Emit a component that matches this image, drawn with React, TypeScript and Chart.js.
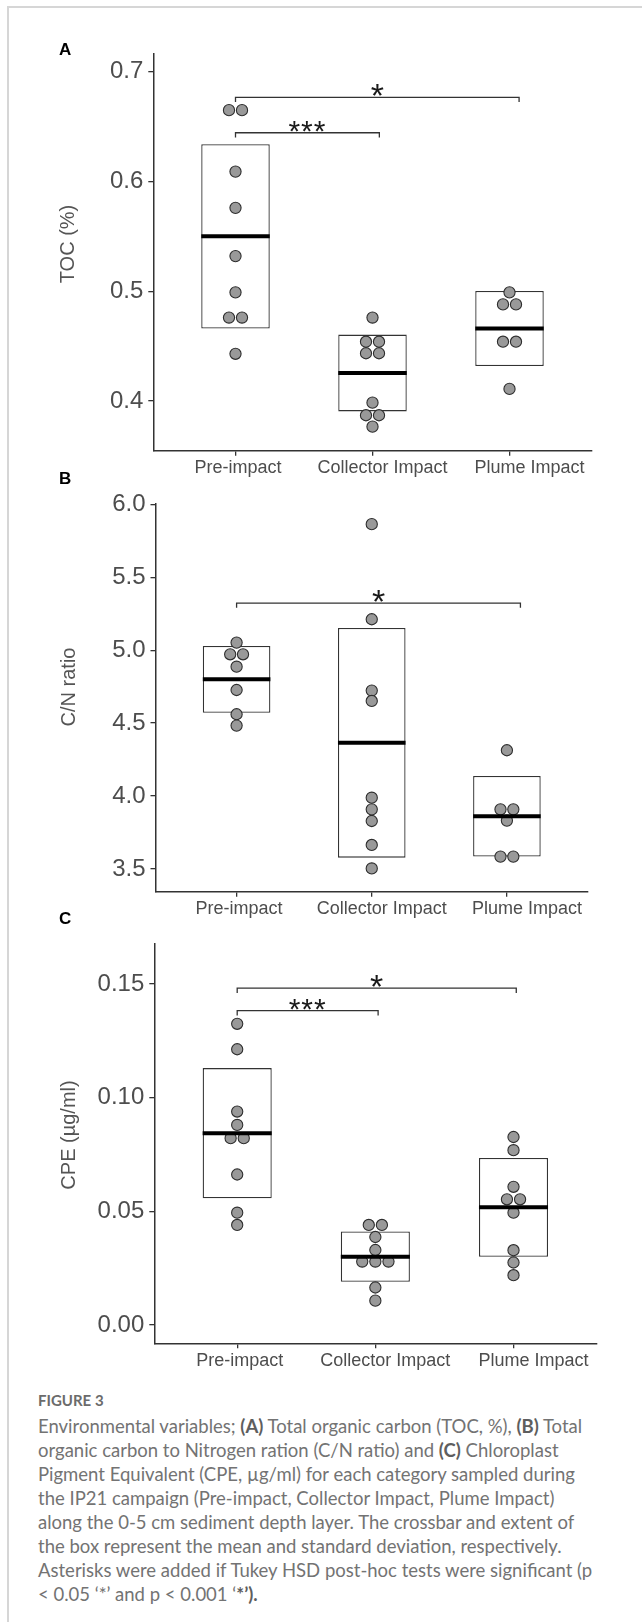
import React, { useEffect, useRef } from "react";
import { Chart, registerables } from "chart.js";

Chart.register(...registerables);

// ---------------- DATA ----------------
const categories = ["Pre-impact", "Collector Impact", "Plume Impact"];
// axis label text under each category (padding mimics the original's label placement)
const categoryAxisLabels = ["Pre-impact\u0020\u0020\u0020", "Collector Impact", "\u0020\u0020\u0020\u0020Plume Impact"];

// Panel A – TOC (%)
const tocPre = [0.665, 0.665, 0.609, 0.576, 0.532, 0.499, 0.476, 0.476, 0.443];
const tocCollector = [0.476, 0.454, 0.454, 0.4435, 0.4435, 0.3985, 0.387, 0.387, 0.3766];
const tocPlume = [0.499, 0.488, 0.488, 0.454, 0.454, 0.411];
const tocMean = [0.55, 0.4255, 0.466];
const tocSd = [0.084, 0.035, 0.0342];
const tocTicks = [0.4, 0.5, 0.6, 0.7];
const tocTickLabels = ["0.4", "0.5", "0.6", "0.7"];
const tocRange = [0.3547, 0.7168];
const tocBrackets = [
  { from: 0, to: 2.07, y: 0.6767, label: "*" },
  { from: 0, to: 1.05, y: 0.6444, label: "***" },
];

// Panel B – C/N ratio
const cnPre = [5.052, 4.972, 4.972, 4.887, 4.727, 4.561, 4.483];
const cnCollector = [5.864, 5.212, 4.723, 4.652, 3.989, 3.909, 3.829, 3.665, 3.504];
const cnPlume = [4.314, 3.909, 3.909, 3.832, 3.585, 3.585];
const cnMean = [4.8, 4.3655, 3.8615];
const cnSd = [0.2285, 0.7875, 0.2765];
const cnTicks = [3.5, 4.0, 4.5, 5.0, 5.5, 6.0];
const cnTickLabels = ["3.5", "4.0", "4.5", "5.0", "5.5", "6.0"];
const cnRange = [3.3445, 6.007];
const cnBrackets = [{ from: 0, to: 2.1, y: 5.323, label: "*" }];

// Panel C – CPE (µg/ml)
const cpePre = [0.1325, 0.1213, 0.0939, 0.088, 0.0822, 0.0822, 0.0662, 0.0494, 0.044];
const cpeCollector = [0.044, 0.044, 0.0387, 0.033, 0.0279, 0.0279, 0.0279, 0.0165, 0.0107];
const cpePlume = [0.0827, 0.0769, 0.0608, 0.0553, 0.0553, 0.0494, 0.0329, 0.0275, 0.0219];
const cpeMean = [0.08435, 0.03005, 0.05175];
const cpeSd = [0.02865, 0.01105, 0.02175];
const cpeTicks = [0.0, 0.05, 0.1, 0.15];
const cpeTickLabels = ["0.00", "0.05", "0.10", "0.15"];
const cpeRange = [-0.00805, 0.1679];
const cpeBrackets = [
  { from: 0, to: 2.02, y: 0.1482, label: "*" },
  { from: 0, to: 1.02, y: 0.1383, label: "***" },
];

const captionTitle = "FIGURE 3";
const captionLines = [
  "Environmental variables; **(A)** Total organic carbon (TOC, %), **(B)** Total",
  "organic carbon to Nitrogen ration (C/N ratio) and **(C)** Chloroplast",
  "Pigment Equivalent (CPE, µg/ml) for each category sampled during",
  "the IP21 campaign (Pre-impact, Collector Impact, Plume Impact)",
  "along the 0-5 cm sediment depth layer. The crossbar and extent of",
  "the box represent the mean and standard deviation, respectively.",
  "Asterisks were added if Tukey HSD post-hoc tests were significant (p",
  "< 0.05 \u2018*\u2019 and p < 0.001 \u2018***\u2019).",
];

// ---------------- STYLE / LAYOUT ----------------
const FONT = "'Liberation Sans', Arial, Helvetica, sans-serif";
const AXIS = "#333333";
const TEXT = "#4d4d4d";
const BOX_HALF = 0.25;
const DODGE = 0.095;
const TIP_FRAC = 0.012;

type PanelCfg = {
  letter: string; title: string; groups: number[][]; mean: number[]; sd: number[];
  ticks: number[]; tickLabels: string[]; range: number[];
  brackets: { from: number; to: number; y: number; label: string }[];
  top: number; height: number; padTop: number; padLeft: number; padRight: number;
  yWidth: number; xHeight: number; letterTop: number; titleX: number; titleY: number;
};

const panels: PanelCfg[] = [
  {
    letter: "A", title: "TOC (%)",
    groups: [tocPre, tocCollector, tocPlume], mean: tocMean, sd: tocSd,
    ticks: tocTicks, tickLabels: tocTickLabels, range: tocRange, brackets: tocBrackets,
    top: 0, height: 480, padTop: 53.3, padLeft: 54.7, padRight: 50.3, yWidth: 98.6, xHeight: 29.3, letterTop: 40.5,
    titleX: 66.7, titleY: 244,
  },
  {
    letter: "B", title: "C/N ratio",
    groups: [cnPre, cnCollector, cnPlume], mean: cnMean, sd: cnSd,
    ticks: cnTicks, tickLabels: cnTickLabels, range: cnRange, brackets: cnBrackets,
    top: 480, height: 440, padTop: 23.3, padLeft: 54.7, padRight: 54, yWidth: 100.8, xHeight: 28.3, letterTop: 469.5,
    titleX: 67.5, titleY: 687,
  },
  {
    letter: "C", title: "CPE (µg/ml)",
    groups: [cpePre, cpeCollector, cpePlume], mean: cpeMean, sd: cpeSd,
    ticks: cpeTicks, tickLabels: cpeTickLabels, range: cpeRange, brackets: cpeBrackets,
    top: 920, height: 460, padTop: 23.3, padLeft: 54.7, padRight: 45.6, yWidth: 99.6, xHeight: 36.7, letterTop: 909.5,
    titleX: 67.5, titleY: 1135,
  },
];

function dodge(values: number[], cat: number) {
  const counts: Record<string, number> = {};
  values.forEach((v) => (counts[v] = (counts[v] || 0) + 1));
  const seen: Record<string, number> = {};
  return values.map((v) => {
    const n = counts[v];
    const k = (seen[v] = (seen[v] ?? -1) + 1);
    return { x: cat + (k - (n - 1) / 2) * DODGE, y: v };
  });
}

const starPlugin = {
  id: "stars",
  afterDatasetsDraw(chart: any, _args: any, opts: any) {
    const { ctx } = chart;
    const xs = chart.scales.x;
    const ys = chart.scales.y;
    (opts.brackets || []).forEach((b: any) => {
      const px = xs.getPixelForValue((b.from + b.to) / 2);
      const py = ys.getPixelForValue(b.y);
      ctx.save();
      const single = b.label.length === 1;
      ctx.font = `${single ? 34 : 30}px ${FONT}`;
      try { (ctx as any).letterSpacing = single ? "0px" : "1px"; } catch (e) {}
      ctx.fillStyle = "#1a1a1a";
      ctx.textAlign = "center";
      ctx.textBaseline = "alphabetic";
      const m = ctx.measureText(b.label);
      ctx.fillText(b.label, px, py - 1 - m.actualBoundingBoxDescent);
      ctx.restore();
    });
  },
};

function Panel({ cfg }: { cfg: PanelCfg }) {
  const ref = useRef<HTMLCanvasElement | null>(null);
  useEffect(() => {
    if (!ref.current) return;
    const span = cfg.range[1] - cfg.range[0];
    const tip = span * TIP_FRAC;
    const points = cfg.groups.flatMap((g, i) => dodge(g, i));
    const catIdx = categories.map((_, i) => i);
    const datasets: any[] = [
      {
        type: "bar",
        data: categories.map((_, i) => ({ x: i, y: [cfg.mean[i] - cfg.sd[i], cfg.mean[i] + cfg.sd[i]] })),
        backgroundColor: "#ffffff", borderColor: AXIS, borderWidth: 1.3, borderSkipped: false,
        barPercentage: 0.5, categoryPercentage: 1, grouped: false, order: 5,
      },
      {
        type: "scatter", data: points, pointRadius: 5.6, pointHoverRadius: 5.6,
        backgroundColor: "#999999", borderColor: "#2e2e2e", borderWidth: 1.1, order: 4,
      },
      ...categories.map((_, i) => ({
        type: "line",
        data: [{ x: i - BOX_HALF, y: cfg.mean[i] }, { x: i + BOX_HALF, y: cfg.mean[i] }],
        borderColor: "#000000", borderWidth: 4, borderCapStyle: "butt", pointRadius: 0, order: 3,
      })),
      ...cfg.brackets.map((b) => ({
        type: "line",
        data: [{ x: b.from, y: b.y - tip }, { x: b.from, y: b.y }, { x: b.to, y: b.y }, { x: b.to, y: b.y - tip }],
        borderColor: "#333333", borderWidth: 1.3, pointRadius: 0, order: 1,
      })),
    ];
    const gridOpts = {
      display: true, offset: false, drawOnChartArea: false, drawTicks: true, tickLength: 5,
      color: AXIS, lineWidth: 1.3,
    };
    const chart = new Chart(ref.current, {
      type: "scatter",
      data: { datasets },
      plugins: [starPlugin as any],
      options: {
        animation: false, responsive: false, devicePixelRatio: 1, events: [],
        layout: { padding: { top: cfg.padTop, left: cfg.padLeft, right: cfg.padRight, bottom: 0 } },
        plugins: { legend: { display: false }, tooltip: { enabled: false }, stars: { brackets: cfg.brackets } } as any,
        scales: {
          x: {
            type: "linear", min: -0.6, max: 2.6, offset: false,
            grid: gridOpts as any,
            border: { display: true, color: AXIS, width: 1.5 },
            ticks: {
              color: TEXT, font: { family: FONT, size: 18 }, padding: 2, labelOffset: 10,
              autoSkip: false, maxRotation: 0,
              callback: (v: any) => categoryAxisLabels[Math.round(Number(v))] ?? "",
            },
            afterBuildTicks: (s: any) => { s.ticks = catIdx.map((i) => ({ value: i })); },
            afterFit: (s: any) => { s.height = cfg.xHeight; },
          },
          y: {
            type: "linear", min: cfg.range[0], max: cfg.range[1],
            grid: gridOpts as any,
            border: { display: true, color: AXIS, width: 1.5 },
            ticks: {
              color: TEXT, font: { family: FONT, size: 24 }, padding: 5,
              callback: (_v: any, idx: number) => cfg.tickLabels[idx],
            },
            afterBuildTicks: (s: any) => { s.ticks = cfg.ticks.map((v) => ({ value: v })); },
            afterFit: (s: any) => { s.width = cfg.yWidth; },
            title: { display: false },
          },
        },
      } as any,
    });
    return () => chart.destroy();
  }, [cfg]);
  return (
    <>
      <canvas ref={ref} width={642} height={cfg.height}
        style={{ position: "absolute", left: 0, top: cfg.top, width: 642, height: cfg.height }} />
      <div style={{ position: "absolute", left: 59, top: cfg.letterTop, fontFamily: FONT, fontWeight: 700, fontSize: 17, lineHeight: "17px", color: "#000" }}>
        {cfg.letter}
      </div>
      <div style={{ position: "absolute", left: cfg.titleX, top: cfg.titleY, transform: "translate(-50%, -50%) rotate(-90deg)", fontFamily: FONT, fontSize: 20, lineHeight: "24px", color: "#555555", whiteSpace: "nowrap" }}>
        {cfg.title}
      </div>
    </>
  );
}

function CaptionLine({ text }: { text: string }) {
  const parts = text.split("**");
  return (
    <div style={{ height: 24, lineHeight: "24px", whiteSpace: "nowrap" }}>
      {parts.map((p, i) => (i % 2 === 1 ? <b key={i} style={{ fontWeight: 700, color: "#5e5e5e" }}>{p}</b> : <span key={i}>{p}</span>))}
    </div>
  );
}

export default function App() {
  return (
    <div style={{ position: "absolute", left: 0, top: 0, width: 642, height: 1622, overflow: "hidden", background: "#ffffff" }}>
      <div style={{ position: "absolute", left: 7, top: 6, width: 700, height: 1700, borderLeft: "2px solid #d6d6d6", borderTop: "2px solid #d6d6d6" }} />
      {panels.map((p) => <Panel key={p.letter} cfg={p} />)}
      <div style={{ position: "absolute", left: 38, top: 1393, fontFamily: "Lato, 'Open Sans', sans-serif", fontWeight: 700, fontSize: 15, lineHeight: "15px", color: "#6b6b6b" }}>
        {captionTitle}
      </div>
      <div style={{ position: "absolute", left: 38, top: 1413.5, fontFamily: "Lato, 'Open Sans', sans-serif", fontSize: 18.5, color: "#737373" }}>
        {captionLines.map((l, i) => <CaptionLine key={i} text={l} />)}
      </div>
    </div>
  );
}
